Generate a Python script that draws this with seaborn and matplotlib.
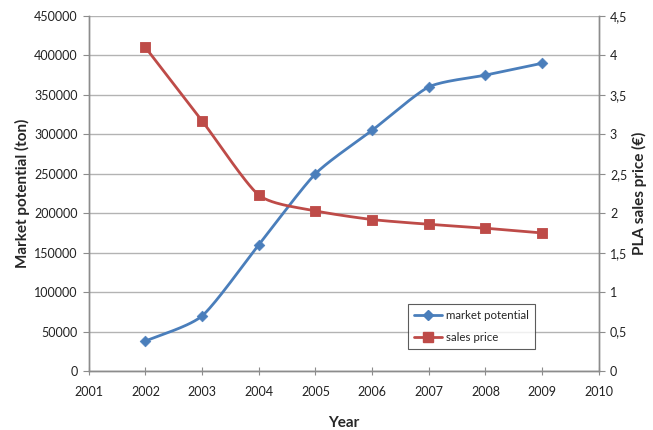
import numpy as np
import pandas as pd
import matplotlib
matplotlib.use("Agg")
import matplotlib.pyplot as plt
from matplotlib.lines import Line2D
from matplotlib.ticker import FuncFormatter
import seaborn as sns

years = [2002, 2003, 2004, 2005, 2006, 2007, 2008, 2009]
market_potential = [38000, 70000, 160000, 250000, 305000, 360000, 375000, 390000]
sales_price = [4.10, 3.17, 2.23, 2.03, 1.92, 1.86, 1.81, 1.75]

BLUE = "#4A7EBB"
RED = "#BE4B48"
GRID = "#B3B3B3"

sns.set_theme(style="white")
plt.rcParams["font.family"] = ["Lato", "DejaVu Sans"]


def smooth(xs, ys, steps=30):
    """Catmull-Rom curve through the points, like a spreadsheet's smoothed line."""
    xs = np.asarray(xs, float)
    ys = np.asarray(ys, float)
    px = np.concatenate([[2 * xs[0] - xs[1]], xs, [2 * xs[-1] - xs[-2]]])
    py = np.concatenate([[2 * ys[0] - ys[1]], ys, [2 * ys[-1] - ys[-2]]])
    out_x, out_y = [], []
    for i in range(1, len(px) - 2):
        t = np.linspace(0, 1, steps, endpoint=False)
        for arr, out in ((px, out_x), (py, out_y)):
            p0, p1, p2, p3 = arr[i - 1], arr[i], arr[i + 1], arr[i + 2]
            m1 = (p2 - p0) / 2 * 0.66
            m2 = (p3 - p1) / 2 * 0.66
            h00 = 2 * t**3 - 3 * t**2 + 1
            h10 = t**3 - 2 * t**2 + t
            h01 = -2 * t**3 + 3 * t**2
            h11 = t**3 - t**2
            out.extend(h00 * p1 + h10 * m1 + h01 * p2 + h11 * m2)
    out_x.append(xs[-1])
    out_y.append(ys[-1])
    return np.array(out_x), np.array(out_y)


fig = plt.figure(figsize=(6.53, 4.30), dpi=100)
ax = fig.add_axes([0.136, 0.137, 0.781, 0.826])
ax2 = ax.twinx()

mx, my = smooth(years, market_potential)
sx, sy = smooth(years, sales_price)

sns.lineplot(x=mx, y=my, ax=ax, color=BLUE, linewidth=2.0, sort=False, zorder=3)
sns.scatterplot(x=years, y=market_potential, ax=ax, color=BLUE, marker="D",
                s=30, edgecolor=BLUE, zorder=4)
sns.lineplot(x=sx, y=sy, ax=ax2, color=RED, linewidth=2.0, sort=False, zorder=3)
sns.scatterplot(x=years, y=sales_price, ax=ax2, color=RED, marker="s",
                s=60, edgecolor=RED, zorder=4)

ax.set_xlim(2001, 2010)
ax.set_ylim(0, 450000)
ax2.set_ylim(0, 4.5)
ax.set_xticks(range(2001, 2011))
ax.set_yticks(np.arange(0, 450001, 50000))
ax2.set_yticks(np.arange(0, 4.51, 0.5))
ax2.yaxis.set_major_formatter(FuncFormatter(
    lambda v, _: (f"{v:g}").replace(".", ",")))

ax.grid(axis="y", color=GRID, linewidth=1.0)
ax.set_axisbelow(True)

for a in (ax, ax2):
    a.spines["top"].set_visible(False)
    for side in ("left", "right", "bottom"):
        a.spines[side].set_color("#8C8C8C")
        a.spines[side].set_linewidth(1.0)
    a.tick_params(axis="both", labelsize=9, colors="#222222", length=4,
                  width=0.8, color="#8C8C8C")
ax.tick_params(axis="y", left=True, direction="out", pad=4)
ax2.tick_params(axis="y", right=True, direction="out", pad=4)
ax.tick_params(axis="x", bottom=True, direction="inout", length=6, pad=8)

ax.set_xlabel("Year", fontsize=11, fontweight="bold", labelpad=13)
ax.set_ylabel("Market potential (ton)", fontsize=11, fontweight="bold", labelpad=3)
ax2.set_ylabel("PLA sales price (€)", fontsize=11, fontweight="bold", labelpad=3)

handles = [
    Line2D([], [], color=BLUE, linewidth=2, marker="D", markersize=5),
    Line2D([], [], color=RED, linewidth=2, marker="s", markersize=7),
]
leg = ax2.legend(handles, ["market potential", "sales price"],
                 loc="upper left", bbox_to_anchor=(0.626, 0.19), fontsize=8.3,
                 frameon=True, fancybox=False, handlelength=2.4,
                 borderpad=0.55, labelspacing=0.95, handletextpad=0.3,
                 borderaxespad=0.0)
leg.get_frame().set_edgecolor("#333333")
leg.get_frame().set_linewidth(0.8)

fig.savefig("out.png", dpi=100)
